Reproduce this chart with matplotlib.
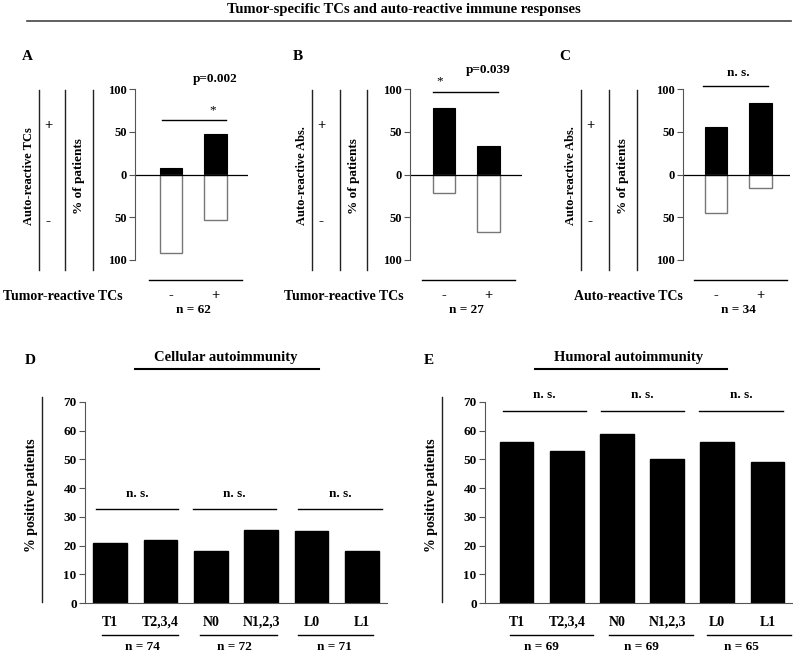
import matplotlib.pyplot as plt

plt.rcParams['font.family'] = ['Liberation Serif', 'DejaVu Serif']
plt.rcParams['font.weight'] = 'bold'

W, H = 793, 653

# panels A-C: % of patients with (+) / without (-) auto-reactive response
top_groups = ['-', '+']
a_pos = [8, 47]
a_neg = [92, 53]
b_pos = [78, 33]
b_neg = [22, 67]
c_pos = [55, 84]
c_neg = [45, 16]
top_n = ['n = 62', 'n = 27', 'n = 34']
top_xlabels = ['Tumor-reactive TCs', 'Tumor-reactive TCs', 'Auto-reactive TCs']
top_ylabels = ['Auto-reactive TCs', 'Auto-reactive Abs.', 'Auto-reactive Abs.']
top_pvals = ['p=0.002', 'p=0.039', 'n. s.']
top_stars = ['*', '*', '']

# panels D-E: % positive patients by tumour stage
stage_labels = ['T1', 'T2,3,4', 'N0', 'N1,2,3', 'L0', 'L1']
cellular = [21, 22, 18, 25.5, 25, 18]
humoral = [56, 53, 59, 50, 56, 49]
cellular_n = ['n = 74', 'n = 72', 'n = 71']
humoral_n = ['n = 69', 'n = 69', 'n = 65']

fig = plt.figure(figsize=(W / 100, H / 100), dpi=100)

# overlay en pixeles para lineas y textos sueltos
ov = fig.add_axes([0, 0, 1, 1])
ov.set_xlim(0, W)
ov.set_ylim(H, 0)
ov.axis('off')


def ax_px(left, top, right, bottom):
    ax = fig.add_axes([left / W, 1 - bottom / H, (right - left) / W, (bottom - top) / H])
    ax.set_facecolor('none')
    return ax


def vline(x, y0, y1, c='black', lw=1.0):
    ov.plot([x, x], [y0, y1], color=c, lw=lw)


def hline(x0, x1, y, c='black', lw=1.0):
    ov.plot([x0, x1], [y, y], color=c, lw=lw)


# titulo general
ov.text(404, 9, 'Tumor-specific TCs and auto-reactive immune responses',
        ha='center', va='center', fontsize=10.5)
hline(27, 791, 21, c='#444', lw=1.2)

# ---------- paneles A, B, C ----------
top_data = [(a_pos, a_neg), (b_pos, b_neg), (c_pos, c_neg)]
top_layout = [
    # axis_x, bar0, right, letter_x, side lines, sig line, star, p
    dict(axis=135, bar0=171, right=248, letter=27, lines=(39, 65, 93),
         sig=(-0.2, 1.24, 64), star=(0.94, 75), p=(1.0, 112), lab=123),
    dict(axis=410, bar0=444, right=522, letter=298, lines=(312, 340, 367),
         sig=(-0.25, 1.21, 97), star=(-0.09, 109), p=(0.99, 122), lab=404),
    dict(axis=683, bar0=716, right=790, letter=565, lines=(581, 609, 637),
         sig=(-0.29, 1.17, 103), star=(0.5, 109), p=(0.5, 119), lab=683),
]
step = 44.5
for i, ((pos, neg), L) in enumerate(zip(top_data, top_layout)):
    ax = ax_px(L['axis'], 89, L['right'], 260)
    x = range(len(top_groups))
    ax.bar(x, pos, width=0.5, color='black', edgecolor='black', lw=0.8)
    ax.bar(x, [-v for v in neg], width=0.5, color='white', edgecolor='#777', lw=1.0)
    ax.axhline(0, color='black', lw=0.9)
    ax.set_ylim(-100, 100)
    ax.set_xlim((L['axis'] - L['bar0']) / step, (L['right'] - L['bar0']) / step)
    for s in ['top', 'right', 'bottom']:
        ax.spines[s].set_visible(False)
    ax.spines['left'].set_color('#555')
    ax.spines['left'].set_bounds(-100, 100)
    ax.set_yticks([100, 50, 0, -50, -100])
    ax.set_yticklabels(['100', '50', '0', '50', '100'], fontsize=9)
    ax.tick_params(axis='y', length=4, width=0.8, color='#555', pad=2)
    ax.set_xticks(list(x))
    ax.set_xticklabels(top_groups, fontsize=10.5)
    ax.tick_params(axis='x', length=0, pad=21)

    x0, x1, ys = L['sig']
    ax.plot([x0, x1], [ys, ys], color='black', lw=1.0, clip_on=False)
    if top_stars[i]:
        ax.text(L['star'][0], L['star'][1], top_stars[i], ha='center', va='center',
                fontsize=9.5, fontweight='normal', clip_on=False)
    ax.text(L['p'][0], L['p'][1], top_pvals[i], ha='center', va='center',
            fontsize=9.5, clip_on=False)

    # linea inferior y n
    ax.plot([-0.5, 1.6], [-123, -123], color='black', lw=1.0, clip_on=False)
    ax.text(0.5, -158, top_n[i], ha='center', va='center', fontsize=9.5, clip_on=False)

    # etiquetas a la izquierda
    l1, l2, l3 = L['lines']
    for lx in L['lines']:
        vline(lx, 90, 270, c='#222')
    ov.text(L['letter'], 57, 'ABC'[i], ha='center', va='center', fontsize=11)
    ov.text(l1 - 10, 176, top_ylabels[i], rotation=90, ha='center', va='center', fontsize=9)
    ov.text(l1 + 9, 125, '+', ha='center', va='center', fontsize=10.5)
    ov.text(l1 + 9, 222, '-', ha='center', va='center', fontsize=11)
    ov.text((l2 + l3) / 2, 176, '% of patients', rotation=90, ha='center', va='center',
            fontsize=9.5)
    ov.text(L['lab'], 297, top_xlabels[i], ha='right', va='center', fontsize=10)

# ---------- paneles D, E ----------
bot_data = [cellular, humoral]
bot_n = [cellular_n, humoral_n]
bot_layout = [
    dict(left=85, right=387, xlim=(-0.5, 5.5), letter=30, line=42, title='Cellular autoimmunity',
         tx=226, ul=(135, 319), sig_y=32.7, txt_y=38,
         sig=[(-0.28, 1.35), (1.65, 3.3), (3.74, 5.41)],
         grp=[(-0.16, 1.35), (1.79, 3.32), (3.74, 5.23)], nx=[0.64, 2.47, 4.45]),
    dict(left=485, right=792, xlim=(-0.63, 5.49), letter=429, line=442, title='Humoral autoimmunity',
         tx=629, ul=(535, 727), sig_y=67, txt_y=72.5,
         sig=[(-0.27, 1.38), (1.68, 3.34), (3.64, 5.31)],
         grp=[(-0.13, 1.52), (1.84, 3.52), (3.79, 5.47)], nx=[0.49, 2.48, 4.49]),
]
for i, (vals, L) in enumerate(zip(bot_data, bot_layout)):
    ax = ax_px(L['left'], 402, L['right'], 603)
    x = range(len(stage_labels))
    ax.bar(x, vals, width=0.67, color='black', edgecolor='black')
    ax.set_ylim(0, 70)
    ax.set_xlim(*L['xlim'])
    for s in ['top', 'right']:
        ax.spines[s].set_visible(False)
    ax.spines['left'].set_color('#555')
    ax.spines['bottom'].set_color('#555')
    ax.set_yticks(range(0, 71, 10))
    ax.tick_params(axis='y', length=4, width=0.8, color='#555', pad=2, labelsize=9.5)
    ax.set_xticks(list(x))
    ax.set_xticklabels(stage_labels, fontsize=10)
    ax.tick_params(axis='x', length=0, pad=9)

    for (x0, x1), nx, nt in zip(L['sig'], L['nx'], bot_n[i]):
        ax.plot([x0, x1], [L['sig_y'], L['sig_y']], color='black', lw=1.0, clip_on=False)
        ax.text((x0 + x1) / 2, L['txt_y'], 'n. s.', ha='center', va='center',
                fontsize=9.5, clip_on=False)
    trans = ax.get_xaxis_transform()
    for (x0, x1), nx, nt in zip(L['grp'], L['nx'], bot_n[i]):
        ax.plot([x0, x1], [-0.159, -0.159], color='black', lw=1.0, transform=trans, clip_on=False)
        ax.text(nx, -0.219, nt, ha='center', va='center', fontsize=9.5, transform=trans)

    ov.text(L['letter'], 360, 'DE'[i], ha='center', va='center', fontsize=11)
    ov.text(L['tx'], 357, L['title'], ha='center', va='center', fontsize=10.5)
    hline(L['ul'][0], L['ul'][1], 369, lw=1.5)
    vline(L['line'], 397, 602, c='#222')
    ov.text(L['line'] - 11, 495, '% positive patients', rotation=90, ha='center', va='center',
            fontsize=10)

fig.savefig('out.png', dpi=100)
